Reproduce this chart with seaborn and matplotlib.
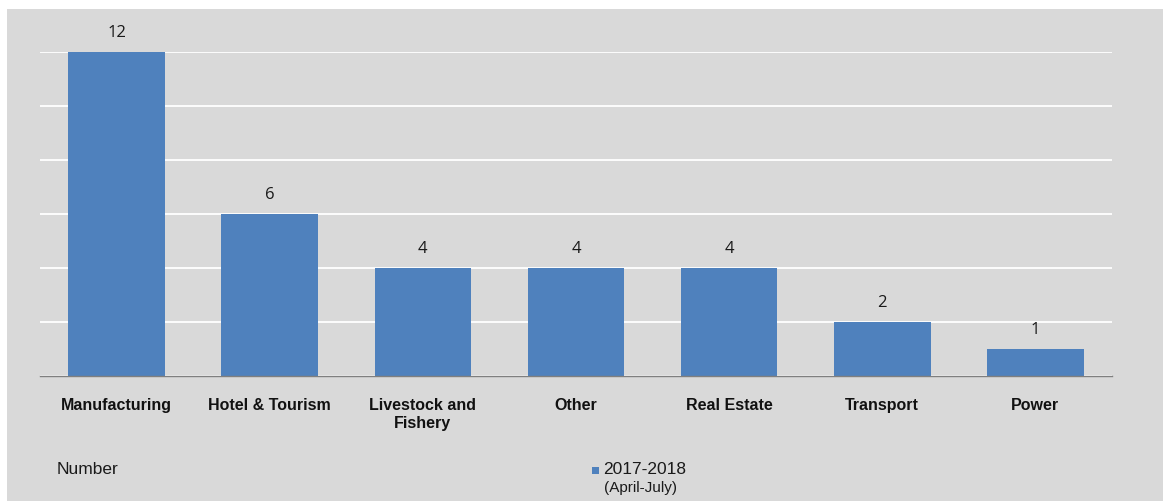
import matplotlib
matplotlib.use("Agg")
import matplotlib.pyplot as plt
import pandas as pd
import seaborn as sns
from matplotlib.patches import Rectangle

sectors = ["Manufacturing", "Hotel & Tourism", "Livestock and\nFishery", "Other",
           "Real Estate", "Transport", "Power"]
counts = [12, 6, 4, 4, 4, 2, 1]
series_label = "2017-2018"
series_note = "(April-July)"

df = pd.DataFrame({"Sector": sectors, "Number": counts})

sns.set_style("white")
plt.rcParams['font.family'] = ['Liberation Sans', 'DejaVu Sans']

bg = "#d9d9d9"
bar_color = "#4f81bd"

fig = plt.figure(figsize=(11.7, 5.01), dpi=100)
fig.patch.set_facecolor("white")
# grey chart panel inside a thin white margin
fig.patches.append(Rectangle((7 / 1170, 0), 1156 / 1170, 492 / 501,
                             transform=fig.transFigure, facecolor=bg,
                             edgecolor="none", zorder=-10))

ax = fig.add_axes([40 / 1170, 1 - 376 / 501, 1072 / 1170, 324 / 501])
ax.set_facecolor(bg)

sns.barplot(data=df, x="Sector", y="Number", color=bar_color, width=0.63,
            saturation=1, ax=ax, zorder=3, edgecolor="none", linewidth=0)

ax.set_ylim(0, 12)
ax.set_yticks([0, 2, 4, 6, 8, 10, 12])
ax.yaxis.grid(True, color="white", linewidth=1.3)
ax.set_axisbelow(True)
ax.tick_params(axis="y", left=False, labelleft=False)
ax.tick_params(axis="x", bottom=False, pad=12)
for lab in ax.get_xticklabels():
    lab.set_fontweight("bold")
    lab.set_fontsize(11.5)
    lab.set_color("#111111")
    lab.set_linespacing(1.25)
    lab.set_verticalalignment("top")

for s in ["top", "right", "left"]:
    ax.spines[s].set_visible(False)
ax.spines["bottom"].set_color("#7f7f7f")
ax.spines["bottom"].set_linewidth(1.0)
ax.spines["bottom"].set_zorder(4)
ax.set_xlabel("")
ax.set_ylabel("")

# value labels above bars
for container in ax.containers:
    ax.bar_label(container, labels=[str(v) for v in counts], padding=8,
                 fontsize=12, color="#1a1a1a", family=["Open Sans", "DejaVu Sans"],
                 clip_on=False)

# bottom legend-like row
fig.text(57 / 1170, 1 - 470 / 501, "Number", fontsize=12.5, va="center", ha="left",
         color="#1a1a1a")
fig.patches.append(Rectangle((592 / 1170, 1 - 474 / 501), 7 / 1170, 7 / 501,
                             transform=fig.transFigure, facecolor=bar_color,
                             edgecolor="none", zorder=2))
fig.text(603 / 1170, 1 - 469 / 501, series_label, fontsize=12.5, va="center", ha="left",
         color="#1a1a1a")
fig.text(604 / 1170, 1 - 488 / 501, series_note, fontsize=11, va="center", ha="left",
         color="#1a1a1a")

fig.savefig("out.png", dpi=100, facecolor=fig.get_facecolor())
